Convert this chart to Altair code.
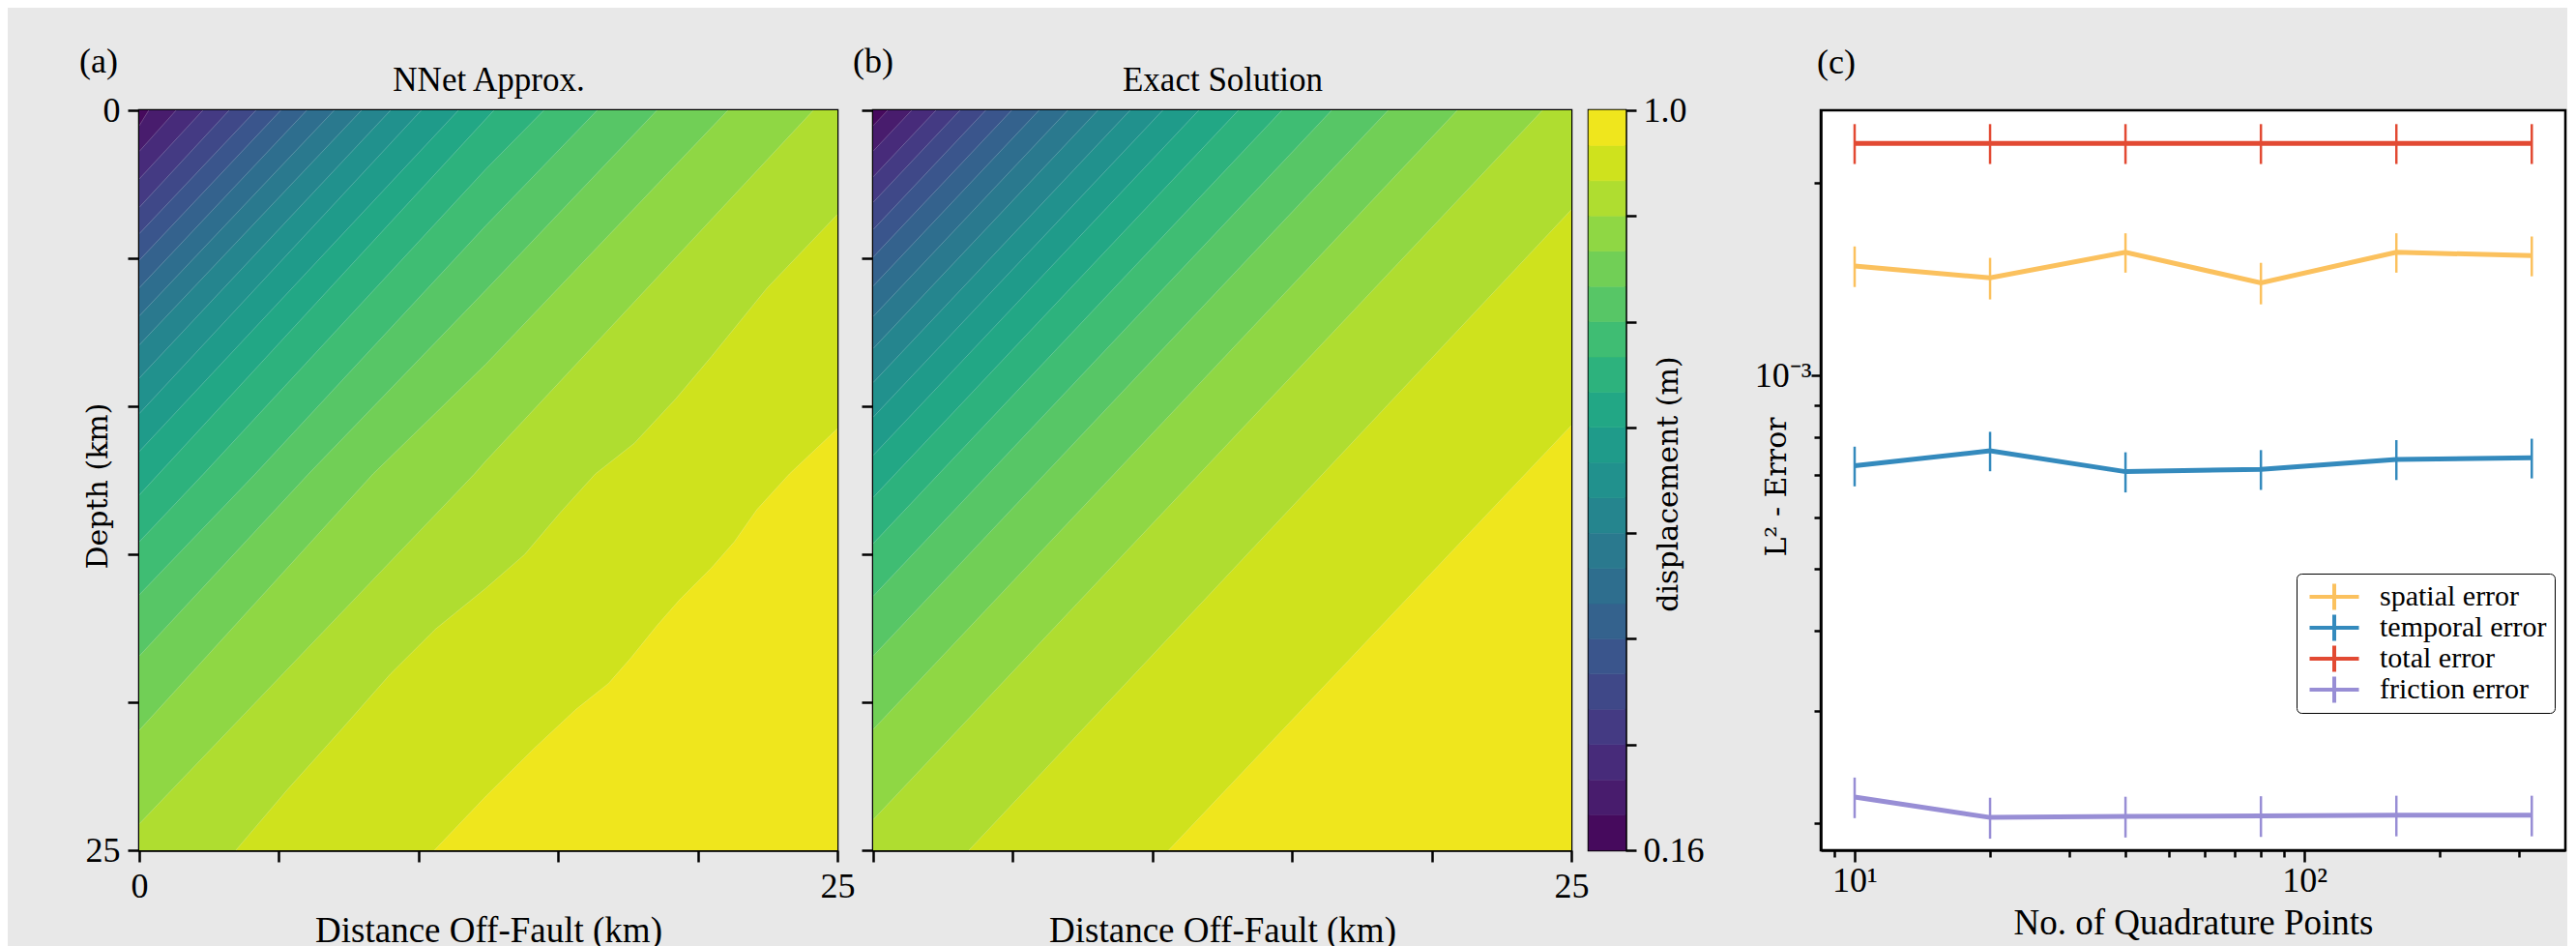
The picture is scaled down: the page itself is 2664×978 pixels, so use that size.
import altair as alt
import pandas as pd

# ---------------- data ----------------
KM_TICKS = [0, 5, 10, 15, 20, 25]
CBAR_TICKS = [0.16, 0.28, 0.40, 0.52, 0.64, 0.76, 0.88, 1.00]
BAND_LO = [0.16, 0.20, 0.24, 0.28, 0.32, 0.36, 0.40, 0.44, 0.48, 0.52, 0.56,
           0.60, 0.64, 0.68, 0.72, 0.76, 0.80, 0.84, 0.88, 0.92, 0.96]
BAND_HI = [0.20, 0.24, 0.28, 0.32, 0.36, 0.40, 0.44, 0.48, 0.52, 0.56, 0.60,
           0.64, 0.68, 0.72, 0.76, 0.80, 0.84, 0.88, 0.92, 0.96, 1.00]

# contour boundaries of panel (a): level -> [(distance km, depth km), ...]
NNET_BOUNDS = [
    (0.20, [(0.34, 0), (0, 0.52)]),
    (0.24, [(1.32, 0), (0, 1.39)]),
    (0.28, [(2.28, 0), (0, 2.32)]),
    (0.32, [(3.22, 0), (0, 3.28)]),
    (0.36, [(4.18, 0), (0, 4.17)]),
    (0.40, [(5.07, 0), (0, 5.07)]),
    (0.44, [(6.00, 0), (0, 6.00)]),
    (0.48, [(6.98, 0), (0, 6.95)]),
    (0.52, [(7.96, 0), (0, 7.93)]),
    (0.56, [(9.00, 0), (0, 9.05)]),
    (0.60, [(10.10, 0), (0, 10.25)]),
    (0.64, [(11.43, 0), (0, 11.53)]),
    (0.68, [(12.70, 0), (0, 13.00)]),
    (0.72, [(14.49, 0), (12.41, 1.99), (2.30, 12.29), (0, 14.58)]),
    (0.76, [(16.40, 0), (12.41, 3.90), (4.15, 12.29), (0, 16.37)]),
    (0.80, [(18.54, 0), (12.41, 6.08), (6.06, 12.29), (0, 18.44)]),
    (0.84, [(21.08, 0), (12.41, 8.58), (8.37, 12.29), (0, 20.95)]),
    (0.88, [(24.14, 0), (12.41, 11.85), (12.00, 12.29), (0, 24.11)]),
    (0.92, [(25, 3.52), (22.47, 6.02), (20.50, 8.31), (19.23, 9.73),
            (17.73, 11.25), (16.33, 12.29), (15.07, 13.60), (13.80, 15.01),
            (12.41, 16.15), (10.62, 17.52), (9.00, 19.04), (7.27, 20.89),
            (5.30, 22.96), (3.46, 25)]),
    (0.96, [(25, 10.76), (23.28, 12.29), (22.12, 13.49), (21.31, 14.58),
            (20.50, 15.45), (19.35, 16.54), (18.54, 17.41), (17.61, 18.50),
            (16.80, 19.37), (15.64, 20.24), (14.15, 21.55), (12.41, 23.18),
            (10.57, 25)]),
]

# contour boundaries of panel (b)
EXACT_BOUNDS = [
    (0.20, [(0.52, 0), (0, 0.52)]),
    (0.24, [(1.38, 0), (0, 1.38)]),
    (0.28, [(2.25, 0), (0, 2.25)]),
    (0.32, [(3.11, 0), (0, 3.11)]),
    (0.36, [(4.03, 0), (0, 4.03)]),
    (0.40, [(4.96, 0), (0, 4.96)]),
    (0.44, [(5.94, 0), (0, 5.94)]),
    (0.48, [(6.97, 0), (0, 6.97)]),
    (0.52, [(8.05, 0), (0, 8.05)]),
    (0.56, [(9.20, 0), (0, 9.20)]),
    (0.60, [(10.37, 0), (0, 10.37)]),
    (0.64, [(11.66, 0), (0, 11.66)]),
    (0.68, [(13.08, 0), (0, 13.08)]),
    (0.72, [(14.64, 0), (0, 14.64)]),
    (0.76, [(16.42, 0), (0, 16.42)]),
    (0.80, [(18.44, 0), (0, 18.44)]),
    (0.84, [(20.92, 0), (0, 20.92)]),
    (0.88, [(23.97, 0), (0, 23.97)]),
    (0.92, [(25, 3.36), (3.43, 25)]),
    (0.96, [(25, 10.65), (10.58, 25)]),
]

# panel (c)
QUAD_POINTS = [10, 20, 40, 80, 160, 320]
SPATIAL = [1.483e-3, 1.421e-3, 1.558e-3, 1.396e-3, 1.558e-3, 1.539e-3]
SPATIAL_ERR = [1.08e-4, 1.06e-4, 1.10e-4, 1.04e-4, 1.10e-4, 1.10e-4]
TEMPORAL = [7.23e-4, 7.63e-4, 7.08e-4, 7.14e-4, 7.40e-4, 7.44e-4]
TEMPORAL_ERR = [5.15e-5, 5.4e-5, 5.1e-5, 5.1e-5, 5.3e-5, 5.3e-5]
TOTAL = [2.305e-3, 2.305e-3, 2.305e-3, 2.305e-3, 2.305e-3, 2.305e-3]
TOTAL_ERR = [1.65e-4, 1.65e-4, 1.65e-4, 1.65e-4, 1.65e-4, 1.65e-4]
FRICTION = [2.197e-4, 2.042e-4, 2.050e-4, 2.054e-4, 2.058e-4, 2.058e-4]
FRICTION_ERR = [1.6e-5, 1.5e-5, 1.5e-5, 1.5e-5, 1.5e-5, 1.5e-5]
NAMES = ["spatial error", "temporal error", "total error", "friction error"]
COLORS = ["#FBC15E", "#348ABD", "#E24A33", "#988ED5"]
X_TICKS_C = [9, 10, 20, 30, 40, 50, 60, 70, 80, 90, 100, 200, 300]
Y_TICKS_C = [2e-4, 3e-4, 4e-4, 5e-4, 6e-4, 7e-4, 8e-4, 9e-4, 1e-3, 2e-3]

# ---------------- style ----------------
FONT = "Liberation Serif"
FONT2 = "DejaVu Serif"
BG = "#E8E8E8"
W_FIELD = 722
H = 765

xs = alt.Scale(domain=[0, 25], nice=False, zero=False)
ys = alt.Scale(domain=[0, 25], nice=False, zero=False, reverse=True)
fill_scale = alt.Scale(scheme="viridis", domain=[0.16, 1.0])


def field_tables(bounds):
    """Region at or above each level lies below its boundary (deeper side)."""
    all_b = [(0.16, [(25, 0), (0, 0)])] + bounds
    area_rows, line_rows = [], []
    for lev, pts in all_b:
        p = sorted(pts, key=lambda t: t[0])          # order along distance
        if p[0][0] > 0:
            p = [(0, 25)] + p                        # nothing of this level left of it
        if p[-1][0] < 25:
            p = p + [(25, 0)]                        # whole column beyond it
        for x, z in p:
            area_rows.append({"level": lev, "mid": round(lev + 0.02, 2), "x": x, "z": z})
        if lev > 0.16:
            for i, (x, z) in enumerate(pts):
                line_rows.append({"level": lev, "i": i, "x": x, "z": z})
    return pd.DataFrame(area_rows), pd.DataFrame(line_rows)


def field_panel(bounds, xaxis, yaxis, top_title, tag, tag_dx):
    adf, ldf = field_tables(bounds)
    bands = (
        alt.Chart(adf)
        .mark_area(clip=True)
        .encode(
            x=alt.X("x:Q", scale=xs, axis=xaxis),
            y=alt.Y("z:Q", scale=ys, axis=yaxis, stack=None),
            y2=alt.datum(25),
            fill=alt.Fill("mid:Q", scale=fill_scale, legend=None),
            detail="level:N",
        )
    )
    top_axis = alt.Axis(orient="top", title=top_title, labels=False, ticks=False, domain=False,
                        titleFontSize=35, titlePadding=14)
    seams = (
        alt.Chart(ldf)
        .mark_line(clip=True, color="white", opacity=0.22, strokeWidth=1)
        .encode(
            x=alt.X("x:Q", scale=xs, axis=top_axis),
            y=alt.Y("z:Q", scale=ys, axis=None),
            detail="level:N",
            order=alt.Order("i:Q"),
        )
    )
    return (
        alt.layer(bands, seams)
        .resolve_axis(x="independent", y="independent")
        .properties(
            width=W_FIELD, height=H,
            title=alt.Title(tag, anchor="start", frame="group", dx=tag_dx, baseline="bottom",
                            offset=0, dy=54))
    )


common_axis = dict(values=KM_TICKS, tickSize=12, labelFlush=False, labelOverlap=False)

xaxis_a = alt.Axis(orient="bottom", labelExpr="datum.value == 0 || datum.value == 25 ? datum.label : ''",
                   title="Distance Off-Fault (km)", labelPadding=8, titlePadding=10, **common_axis)
yaxis_a = alt.Axis(orient="left", labelExpr="datum.value == 0 || datum.value == 25 ? datum.label : ''",
                   title="Depth (km)", titleFont=FONT2, titleFontSize=30, titleX=-43, titleY=388,
                   titleAngle=270, titleAlign="center", titleBaseline="middle", labelPadding=8,
                   **common_axis)
xaxis_b = alt.Axis(orient="bottom", labelExpr="datum.value == 25 ? datum.label : ''",
                   title="Distance Off-Fault (km)", labelPadding=8, titlePadding=10, **common_axis)
yaxis_b = alt.Axis(orient="left", labels=False, title=None, **common_axis)

panel_a = field_panel(NNET_BOUNDS, xaxis_a, yaxis_a, "NNet Approx.", "(a)", -62)
panel_b = field_panel(EXACT_BOUNDS, xaxis_b, yaxis_b, "Exact Solution", "(b)", -21)

# colour bar
cb_df = pd.DataFrame({"lo": BAND_LO, "hi": BAND_HI,
                      "mid": [round((a + b) / 2, 2) for a, b in zip(BAND_LO, BAND_HI)]})
cbar = (
    alt.Chart(cb_df)
    .mark_rect(strokeWidth=0.6)
    .encode(
        y=alt.Y("lo:Q", scale=alt.Scale(domain=[0.16, 1.0], nice=False, zero=False),
                axis=alt.Axis(orient="right", values=CBAR_TICKS, tickSize=11, labelPadding=7,
                              labelExpr="datum.value == 1 ? '1.0' : (datum.value == 0.16 ? '0.16' : '')",
                              labelFlush=False, labelOverlap=False,
                              title="displacement (m)", titleFont=FONT2, titleFontSize=30,
                              titleX=44, titleY=386, titleAngle=270, titleAlign="center",
                              titleBaseline="middle")),
        y2="hi:Q",
        fill=alt.Fill("mid:Q", scale=fill_scale, legend=None),
        stroke=alt.Stroke("mid:Q", scale=fill_scale, legend=None),
    )
    .properties(width=38, height=H)
)

# spacers used to set the gaps between panels
spacer_df = pd.DataFrame({"v": [0]})
spacer_small = alt.Chart(spacer_df).mark_point(opacity=0).properties(
    width=1, height=H, view=alt.ViewBackground(stroke="transparent", fill="transparent"))
spacer_big = alt.Chart(spacer_df).mark_point(opacity=0).properties(
    width=166, height=H, view=alt.ViewBackground(stroke="transparent", fill="transparent"))

# panel (c)
rows = []
for name, vals, errs in zip(NAMES, [SPATIAL, TEMPORAL, TOTAL, FRICTION],
                            [SPATIAL_ERR, TEMPORAL_ERR, TOTAL_ERR, FRICTION_ERR]):
    for n, v, e in zip(QUAD_POINTS, vals, errs):
        rows.append({"series": name, "n": n, "val": v, "lo": v - e, "hi": v + e})
cdf = pd.DataFrame(rows)

xsc = alt.Scale(type="log", domain=[8.41, 380], nice=False)
ysc = alt.Scale(type="log", domain=[1.815e-4, 2.596e-3], nice=False)
xaxis_c = alt.Axis(values=X_TICKS_C,
                   labelExpr="datum.value == 10 ? '10¹' : (datum.value == 100 ? '10²' : '')",
                   tickSize={"condition": {"test": "datum.value == 10 || datum.value == 100", "value": 12},
                             "value": 7},
                   labelPadding=2, labelFlush=False, labelOverlap=False,
                   title="No. of Quadrature Points", titlePadding=8)
yaxis_c = alt.Axis(values=Y_TICKS_C, labelExpr="datum.value == 0.001 ? '10⁻³' : ''",
                   tickSize={"condition": {"test": "datum.value == 0.001", "value": 10}, "value": 7},
                   labelPadding=0, labelFlush=False, labelOverlap=False,
                   title="L² - Error", titleFont=FONT2, titleFontSize=30, titleX=-46, titleY=389,
                   titleAngle=270, titleAlign="center", titleBaseline="middle")
legend_c = alt.Legend(orient="none", legendX=492, legendY=479, title=None,
                      symbolType="M-2.55,0H2.55M0,-1.35V1.35", symbolSize=400, symbolStrokeWidth=4,
                      symbolOffset=16, symbolOpacity=1, labelFont=FONT, labelFontSize=30,
                      labelColor="black", labelOffset=32, labelLimit=0, padding=8, rowPadding=0,
                      clipHeight=32,
                      fillColor="white", strokeColor="black", cornerRadius=5)
color_c = alt.Color("series:N", scale=alt.Scale(domain=NAMES, range=COLORS), legend=legend_c)

lines_c = alt.Chart(cdf).mark_line(strokeWidth=5, clip=True).encode(
    x=alt.X("n:Q", scale=xsc, axis=xaxis_c),
    y=alt.Y("val:Q", scale=ysc, axis=yaxis_c),
    color=color_c,
    order=alt.Order("n:Q"),
)
bars_c = alt.Chart(cdf).mark_rule(strokeWidth=2.5, clip=True).encode(
    x=alt.X("n:Q", scale=xsc, axis=xaxis_c),
    y=alt.Y("lo:Q", scale=ysc, axis=yaxis_c),
    y2="hi:Q",
    color=color_c,
)
panel_c = alt.layer(lines_c, bars_c).properties(
    width=770, height=H,
    title=alt.Title("(c)", anchor="start", frame="group", dx=-4, baseline="bottom", offset=31, dy=37),
    view=alt.ViewBackground(fill="white", stroke="black", strokeWidth=2.5),
)

chart = (
    alt.hconcat(panel_a, spacer_small, panel_b, cbar, spacer_big, panel_c,
                spacing=18, bounds="flush")
    .resolve_legend(color="independent")
    .properties(padding={"left": 72, "top": 36, "right": 0, "bottom": 0}, background=BG)
    .configure_view(stroke="black", strokeWidth=2.5)
    .configure_axis(labelFont=FONT, labelFontSize=36, labelColor="black", titleFont=FONT,
                    titleFontSize=37, titleFontWeight="normal", titleColor="black",
                    tickColor="black", tickWidth=2.5, domainColor="black", domainWidth=2.5,
                    grid=False)
    .configure_title(font=FONT, fontSize=36, fontWeight="normal", color="black")
)

chart.save("out.html", embed_options={"renderer": "svg", "actions": False})
